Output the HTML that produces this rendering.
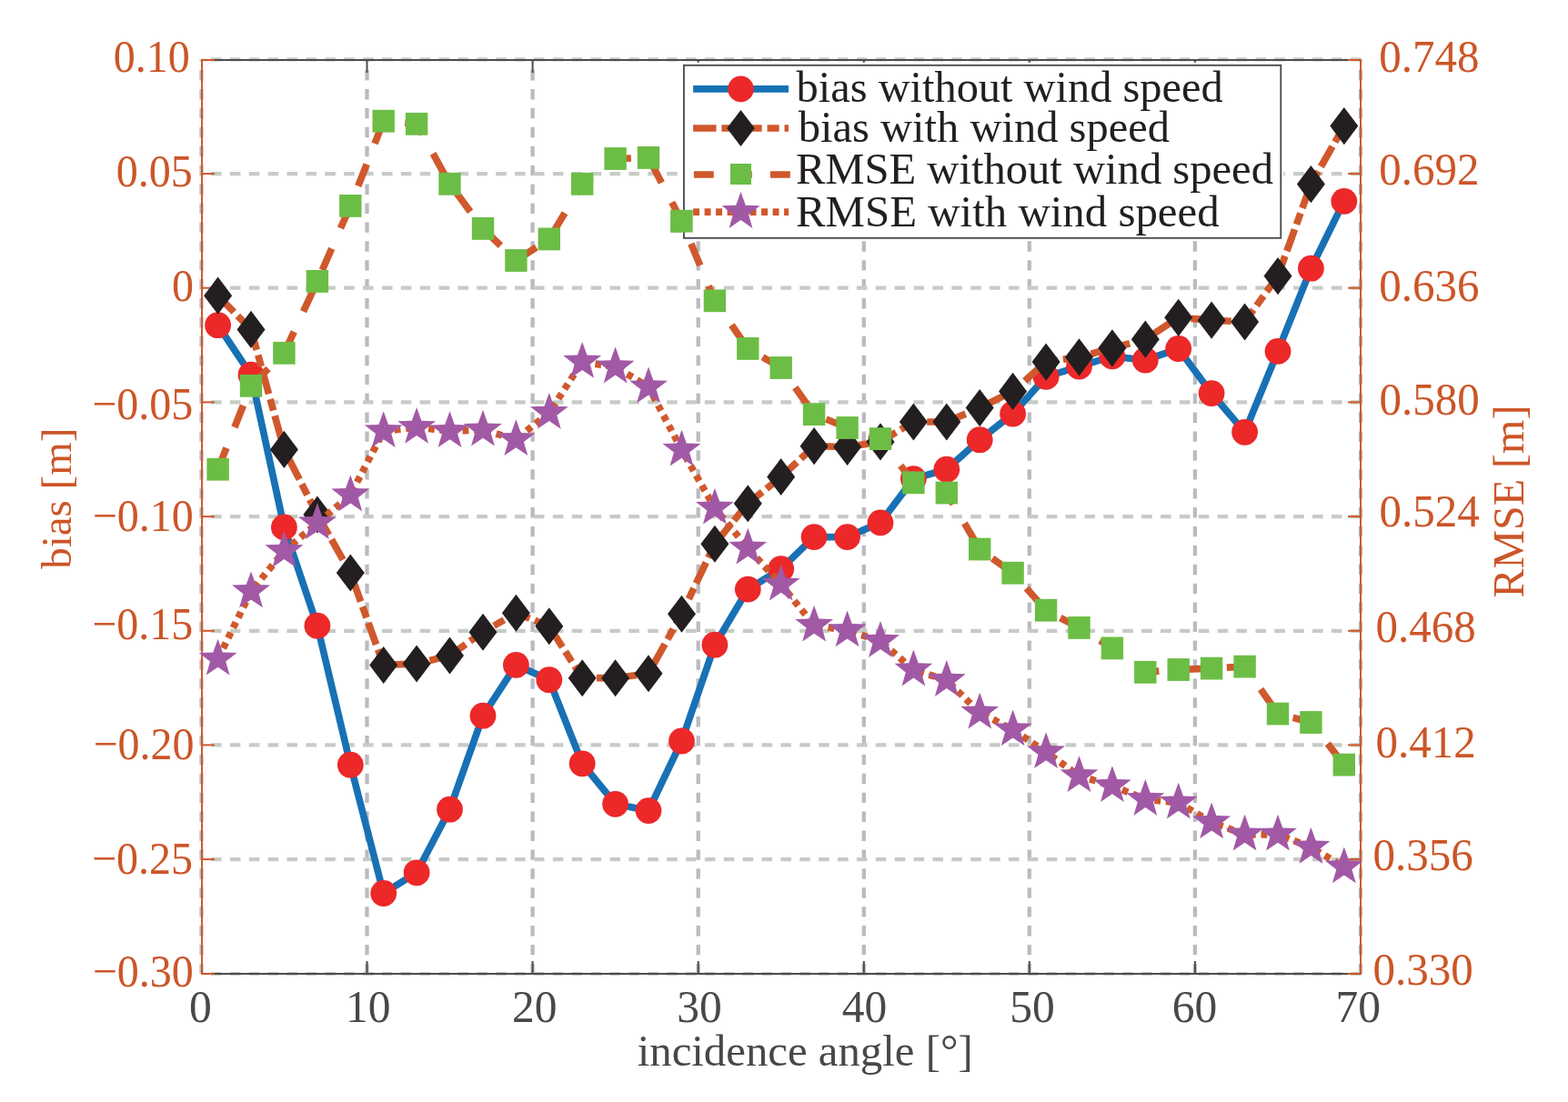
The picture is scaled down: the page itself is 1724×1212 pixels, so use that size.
<!DOCTYPE html>
<html><head><meta charset="utf-8"><title>bias and RMSE vs incidence angle</title>
<style>html,body{margin:0;padding:0;background:#fff;overflow:hidden}svg{display:block}text{font-family:"Liberation Serif","Times New Roman",serif;font-size:48px}</style>
</head><body>
<svg width="1724" height="1212" viewBox="0 0 1724 1212">
<rect x="0" y="0" width="1724" height="1212" fill="#fff"/>
<g fill="none">
<line x1="403.5" y1="65.4" x2="403.5" y2="1070.7" stroke="#BABBC0" stroke-width="4.3" stroke-dasharray="11.4 9.51" stroke-dashoffset="9.2"/>
<line x1="585.6" y1="65.4" x2="585.6" y2="1070.7" stroke="#BABBC0" stroke-width="4.3" stroke-dasharray="11.4 9.51" stroke-dashoffset="9.2"/>
<line x1="767.7" y1="65.4" x2="767.7" y2="1070.7" stroke="#BABBC0" stroke-width="4.3" stroke-dasharray="11.4 9.51" stroke-dashoffset="9.2"/>
<line x1="949.8" y1="65.4" x2="949.8" y2="1070.7" stroke="#BABBC0" stroke-width="4.3" stroke-dasharray="11.4 9.51" stroke-dashoffset="9.2"/>
<line x1="1131.8" y1="65.4" x2="1131.8" y2="1070.7" stroke="#BABBC0" stroke-width="4.3" stroke-dasharray="11.4 9.51" stroke-dashoffset="9.2"/>
<line x1="1313.9" y1="65.4" x2="1313.9" y2="1070.7" stroke="#BABBC0" stroke-width="4.3" stroke-dasharray="11.4 9.51" stroke-dashoffset="9.2"/>
<line x1="222" y1="191.1" x2="1496" y2="191.1" stroke="#C5CCC4" stroke-width="4.2" stroke-dasharray="11.6 9.28" stroke-dashoffset="10.9"/>
<line x1="222" y1="316.7" x2="1496" y2="316.7" stroke="#C5CCC4" stroke-width="4.2" stroke-dasharray="11.6 9.28" stroke-dashoffset="10.9"/>
<line x1="222" y1="442.4" x2="1496" y2="442.4" stroke="#C5CCC4" stroke-width="4.2" stroke-dasharray="11.6 9.28" stroke-dashoffset="10.9"/>
<line x1="222" y1="568.1" x2="1496" y2="568.1" stroke="#C5CCC4" stroke-width="4.2" stroke-dasharray="11.6 9.28" stroke-dashoffset="10.9"/>
<line x1="222" y1="693.8" x2="1496" y2="693.8" stroke="#C5CCC4" stroke-width="4.2" stroke-dasharray="11.6 9.28" stroke-dashoffset="10.9"/>
<line x1="222" y1="819.4" x2="1496" y2="819.4" stroke="#C5CCC4" stroke-width="4.2" stroke-dasharray="11.6 9.28" stroke-dashoffset="10.9"/>
<line x1="222" y1="945.1" x2="1496" y2="945.1" stroke="#C5CCC4" stroke-width="4.2" stroke-dasharray="11.6 9.28" stroke-dashoffset="10.9"/>
<line x1="222" y1="65.4" x2="1496" y2="65.4" stroke="#C5CCC4" stroke-width="4.2" stroke-dasharray="11.6 9.28" stroke-dashoffset="10.9"/>
<line x1="222" y1="1071" x2="1496" y2="1071" stroke="#C5CCC4" stroke-width="4.2" stroke-dasharray="11.6 9.28" stroke-dashoffset="10.9"/>
<line x1="221.5" y1="65.4" x2="221.5" y2="1070.7" stroke="#BABBC0" stroke-width="4.3" stroke-dasharray="11.4 9.51" stroke-dashoffset="9.2"/>
<line x1="1496" y1="65.4" x2="1496" y2="1070.7" stroke="#BABBC0" stroke-width="4.3" stroke-dasharray="11.4 9.51" stroke-dashoffset="9.2"/>
</g>
<g fill="none" stroke-width="2">
<line x1="222" y1="66" x2="1496" y2="66" stroke="#4C4D50"/>
<line x1="222" y1="1071" x2="1496" y2="1071" stroke="#4C4D50"/>
<line x1="403.5" y1="66" x2="403.5" y2="80" stroke="#4C4D50"/>
<line x1="403.5" y1="1057" x2="403.5" y2="1071" stroke="#4C4D50"/>
<line x1="585.6" y1="66" x2="585.6" y2="80" stroke="#4C4D50"/>
<line x1="585.6" y1="1057" x2="585.6" y2="1071" stroke="#4C4D50"/>
<line x1="767.7" y1="66" x2="767.7" y2="80" stroke="#4C4D50"/>
<line x1="767.7" y1="1057" x2="767.7" y2="1071" stroke="#4C4D50"/>
<line x1="949.8" y1="66" x2="949.8" y2="80" stroke="#4C4D50"/>
<line x1="949.8" y1="1057" x2="949.8" y2="1071" stroke="#4C4D50"/>
<line x1="1131.8" y1="66" x2="1131.8" y2="80" stroke="#4C4D50"/>
<line x1="1131.8" y1="1057" x2="1131.8" y2="1071" stroke="#4C4D50"/>
<line x1="1313.9" y1="66" x2="1313.9" y2="80" stroke="#4C4D50"/>
<line x1="1313.9" y1="1057" x2="1313.9" y2="1071" stroke="#4C4D50"/>
<line x1="222" y1="65" x2="222" y2="1072" stroke="#D0582C"/>
<line x1="1496" y1="65" x2="1496" y2="1072" stroke="#D0582C"/>
<line x1="222" y1="66" x2="236" y2="66" stroke="#D0582C"/>
<line x1="1482" y1="66" x2="1496" y2="66" stroke="#D0582C"/>
<line x1="222" y1="191.1" x2="236" y2="191.1" stroke="#D0582C"/>
<line x1="1482" y1="191.1" x2="1496" y2="191.1" stroke="#D0582C"/>
<line x1="222" y1="316.7" x2="236" y2="316.7" stroke="#D0582C"/>
<line x1="1482" y1="316.7" x2="1496" y2="316.7" stroke="#D0582C"/>
<line x1="222" y1="442.4" x2="236" y2="442.4" stroke="#D0582C"/>
<line x1="1482" y1="442.4" x2="1496" y2="442.4" stroke="#D0582C"/>
<line x1="222" y1="568.1" x2="236" y2="568.1" stroke="#D0582C"/>
<line x1="1482" y1="568.1" x2="1496" y2="568.1" stroke="#D0582C"/>
<line x1="222" y1="693.8" x2="236" y2="693.8" stroke="#D0582C"/>
<line x1="1482" y1="693.8" x2="1496" y2="693.8" stroke="#D0582C"/>
<line x1="222" y1="819.4" x2="236" y2="819.4" stroke="#D0582C"/>
<line x1="1482" y1="819.4" x2="1496" y2="819.4" stroke="#D0582C"/>
<line x1="222" y1="945.1" x2="236" y2="945.1" stroke="#D0582C"/>
<line x1="1482" y1="945.1" x2="1496" y2="945.1" stroke="#D0582C"/>
<line x1="222" y1="1071" x2="236" y2="1071" stroke="#D0582C"/>
<line x1="1482" y1="1071" x2="1496" y2="1071" stroke="#D0582C"/>
</g>
<g fill="none" stroke-linejoin="miter" stroke-linecap="butt">
<polyline points="239.6,357.7 276,412.2 312.4,579.9 348.9,688.2 385.3,841.2 421.7,982.5 458.1,959.8 494.5,890.2 531,787.2 567.4,731.4 603.8,747.7 640.2,839.8 676.6,884.3 713,891.6 749.5,815 785.9,709.2 822.3,648.1 858.7,625.7 895.1,590.6 931.6,590.6 968,574.9 1004.4,526.6 1040.8,516.2 1077.2,483.7 1113.6,455.1 1150.1,414.4 1186.5,403.1 1222.9,391.9 1259.3,396.1 1295.7,383.5 1332.1,432.6 1368.6,475.3 1405,386.4 1441.4,295.2 1477.8,221.4" stroke="#1871B5" stroke-width="7.7"/>
</g>
<g fill="#EC2829">
<circle cx="239.6" cy="357.7" r="14.4"/>
<circle cx="276" cy="412.2" r="14.4"/>
<circle cx="312.4" cy="579.9" r="14.4"/>
<circle cx="348.9" cy="688.2" r="14.4"/>
<circle cx="385.3" cy="841.2" r="14.4"/>
<circle cx="421.7" cy="982.5" r="14.4"/>
<circle cx="458.1" cy="959.8" r="14.4"/>
<circle cx="494.5" cy="890.2" r="14.4"/>
<circle cx="531" cy="787.2" r="14.4"/>
<circle cx="567.4" cy="731.4" r="14.4"/>
<circle cx="603.8" cy="747.7" r="14.4"/>
<circle cx="640.2" cy="839.8" r="14.4"/>
<circle cx="676.6" cy="884.3" r="14.4"/>
<circle cx="713" cy="891.6" r="14.4"/>
<circle cx="749.5" cy="815" r="14.4"/>
<circle cx="785.9" cy="709.2" r="14.4"/>
<circle cx="822.3" cy="648.1" r="14.4"/>
<circle cx="858.7" cy="625.7" r="14.4"/>
<circle cx="895.1" cy="590.6" r="14.4"/>
<circle cx="931.6" cy="590.6" r="14.4"/>
<circle cx="968" cy="574.9" r="14.4"/>
<circle cx="1004.4" cy="526.6" r="14.4"/>
<circle cx="1040.8" cy="516.2" r="14.4"/>
<circle cx="1077.2" cy="483.7" r="14.4"/>
<circle cx="1113.6" cy="455.1" r="14.4"/>
<circle cx="1150.1" cy="414.4" r="14.4"/>
<circle cx="1186.5" cy="403.1" r="14.4"/>
<circle cx="1222.9" cy="391.9" r="14.4"/>
<circle cx="1259.3" cy="396.1" r="14.4"/>
<circle cx="1295.7" cy="383.5" r="14.4"/>
<circle cx="1332.1" cy="432.6" r="14.4"/>
<circle cx="1368.6" cy="475.3" r="14.4"/>
<circle cx="1405" cy="386.4" r="14.4"/>
<circle cx="1441.4" cy="295.2" r="14.4"/>
<circle cx="1477.8" cy="221.4" r="14.4"/>
</g>
<polyline fill="none" points="239.6,325.2 276,362.4 312.4,494.4 348.9,565.9 385.3,630.1 421.7,731.4 458.1,730 494.5,721 531,695.2 567.4,674.2 603.8,688.8 640.2,745.7 676.6,745.7 713,740.7 749.5,675.3 785.9,598.2 822.3,553.8 858.7,524.6 895.1,490.7 931.6,491.5 968,485.9 1004.4,464 1040.8,464 1077.2,448.6 1113.6,430.4 1150.1,398.1 1186.5,392.8 1222.9,382.8 1259.3,373.2 1295.7,349.3 1332.1,352.2 1368.6,354 1405,303.6 1441.4,202.6 1477.8,138.6" stroke="#D0582C" stroke-width="7.7" stroke-dasharray="25.4 5.9 13 5.9" stroke-dashoffset="0.25"/>
<path fill="#231F20" d="M239.6 304.6L255.1 325.2L239.6 345.8L224.1 325.2ZM276 341.8L291.5 362.4L276 382.9L260.5 362.4ZM312.4 473.8L327.9 494.4L312.4 514.9L296.9 494.4ZM348.9 545.4L364.4 565.9L348.9 586.4L333.4 565.9ZM385.3 609.6L400.8 630.1L385.3 650.6L369.8 630.1ZM421.7 710.9L437.2 731.4L421.7 751.9L406.2 731.4ZM458.1 709.5L473.6 730L458.1 750.5L442.6 730ZM494.5 700.5L510 721L494.5 741.5L479 721ZM531 674.7L546.5 695.2L531 715.8L515.5 695.2ZM567.4 653.7L582.9 674.2L567.4 694.8L551.9 674.2ZM603.8 668.2L619.3 688.8L603.8 709.3L588.3 688.8ZM640.2 725.2L655.7 745.7L640.2 766.2L624.7 745.7ZM676.6 725.2L692.1 745.7L676.6 766.2L661.1 745.7ZM713 720.2L728.5 740.7L713 761.2L697.5 740.7ZM749.5 654.8L765 675.3L749.5 695.8L734 675.3ZM785.9 577.7L801.4 598.2L785.9 618.8L770.4 598.2ZM822.3 533.2L837.8 553.8L822.3 574.3L806.8 553.8ZM858.7 504.1L874.2 524.6L858.7 545.1L843.2 524.6ZM895.1 470.1L910.6 490.7L895.1 511.2L879.6 490.7ZM931.6 470.9L947.1 491.5L931.6 512L916.1 491.5ZM968 465.3L983.5 485.9L968 506.4L952.5 485.9ZM1004.4 443.4L1019.9 464L1004.4 484.6L988.9 464ZM1040.8 443.4L1056.3 464L1040.8 484.6L1025.3 464ZM1077.2 428.1L1092.7 448.6L1077.2 469.2L1061.7 448.6ZM1113.6 409.8L1129.1 430.4L1113.6 450.9L1098.1 430.4ZM1150.1 377.6L1165.6 398.1L1150.1 418.7L1134.6 398.1ZM1186.5 372.2L1202 392.8L1186.5 413.4L1171 392.8ZM1222.9 362.2L1238.4 382.8L1222.9 403.4L1207.4 382.8ZM1259.3 352.6L1274.8 373.2L1259.3 393.8L1243.8 373.2ZM1295.7 328.8L1311.2 349.3L1295.7 369.9L1280.2 349.3ZM1332.1 331.6L1347.6 352.2L1332.1 372.8L1316.6 352.2ZM1368.6 333.4L1384.1 354L1368.6 374.6L1353.1 354ZM1405 283.1L1420.5 303.6L1405 324.2L1389.5 303.6ZM1441.4 182L1456.9 202.6L1441.4 223.2L1425.9 202.6ZM1477.8 118L1493.3 138.6L1477.8 159.2L1462.3 138.6Z"/>
<polyline fill="none" points="239.6,516.2 276,424.3 312.4,388.3 348.9,309.4 385.3,226.4 421.7,133.2 458.1,136.3 494.5,202.3 531,251.4 567.4,286.5 603.8,262.9 640.2,202.3 676.6,174.5 713,173.4 749.5,243.2 785.9,330.8 822.3,383.4 858.7,404.5 895.1,455.6 931.6,470.5 968,482.6 1004.4,530.8 1040.8,542 1077.2,604 1113.6,630.2 1150.1,671.2 1186.5,690.4 1222.9,712.9 1259.3,739.3 1295.7,736.5 1332.1,735.1 1368.6,733.1 1405,785 1441.4,794.5 1477.8,841.1" stroke="#D0582C" stroke-width="7.7" stroke-dasharray="25.8 24.4" stroke-dashoffset="0.5"/>
<g fill="#6CBD45">
<rect x="227.4" y="503.8" width="24.4" height="24.8"/>
<rect x="263.8" y="411.9" width="24.4" height="24.8"/>
<rect x="300.2" y="375.9" width="24.4" height="24.8"/>
<rect x="336.7" y="297" width="24.4" height="24.8"/>
<rect x="373.1" y="214" width="24.4" height="24.8"/>
<rect x="409.5" y="120.8" width="24.4" height="24.8"/>
<rect x="445.9" y="123.9" width="24.4" height="24.8"/>
<rect x="482.3" y="189.9" width="24.4" height="24.8"/>
<rect x="518.8" y="239" width="24.4" height="24.8"/>
<rect x="555.2" y="274.1" width="24.4" height="24.8"/>
<rect x="591.6" y="250.5" width="24.4" height="24.8"/>
<rect x="628" y="189.9" width="24.4" height="24.8"/>
<rect x="664.4" y="162.1" width="24.4" height="24.8"/>
<rect x="700.8" y="161" width="24.4" height="24.8"/>
<rect x="737.3" y="230.8" width="24.4" height="24.8"/>
<rect x="773.7" y="318.4" width="24.4" height="24.8"/>
<rect x="810.1" y="371" width="24.4" height="24.8"/>
<rect x="846.5" y="392.1" width="24.4" height="24.8"/>
<rect x="882.9" y="443.2" width="24.4" height="24.8"/>
<rect x="919.4" y="458.1" width="24.4" height="24.8"/>
<rect x="955.8" y="470.2" width="24.4" height="24.8"/>
<rect x="992.2" y="518.4" width="24.4" height="24.8"/>
<rect x="1028.6" y="529.6" width="24.4" height="24.8"/>
<rect x="1065" y="591.6" width="24.4" height="24.8"/>
<rect x="1101.4" y="617.8" width="24.4" height="24.8"/>
<rect x="1137.9" y="658.8" width="24.4" height="24.8"/>
<rect x="1174.3" y="678" width="24.4" height="24.8"/>
<rect x="1210.7" y="700.5" width="24.4" height="24.8"/>
<rect x="1247.1" y="726.9" width="24.4" height="24.8"/>
<rect x="1283.5" y="724.1" width="24.4" height="24.8"/>
<rect x="1319.9" y="722.7" width="24.4" height="24.8"/>
<rect x="1356.4" y="720.7" width="24.4" height="24.8"/>
<rect x="1392.8" y="772.6" width="24.4" height="24.8"/>
<rect x="1429.2" y="782.1" width="24.4" height="24.8"/>
<rect x="1465.6" y="828.7" width="24.4" height="24.8"/>
</g>
<polyline fill="none" points="239.6,724.8 276,650.4 312.4,606.1 348.9,575.3 385.3,544.4 421.7,474.2 458.1,470 494.5,474.2 531,472.8 567.4,483.2 603.8,454 640.2,397.9 676.6,403.6 713,425.5 749.5,494.8 785.9,558.8 822.3,602.8 858.7,642.7 895.1,687.7 931.6,693.4 968,705.1 1004.4,736.6 1040.8,748.1 1077.2,783.7 1113.6,802.5 1150.1,827.2 1186.5,853.3 1222.9,864.2 1259.3,879.1 1295.7,882.8 1332.1,904.4 1368.6,917.8 1405,917.8 1441.4,931.9 1477.8,953.5" stroke="#D0582C" stroke-width="7.7" stroke-dasharray="6.8 5.748" stroke-dashoffset="12"/>
<path fill="#A259A5" d="M239.6 702.8 L244.9 717.5 L260.5 718 L248.2 727.6 L252.5 742.6 L239.6 733.8 L226.7 742.6 L231 727.6 L218.7 718 L234.3 717.5ZM276 628.4 L281.3 643.1 L297 643.6 L284.6 653.2 L289 668.2 L276 659.4 L263.1 668.2 L267.5 653.2 L255.1 643.6 L270.7 643.1ZM312.4 584.1 L317.7 598.8 L333.4 599.3 L321 608.9 L325.4 623.9 L312.4 615.1 L299.5 623.9 L303.9 608.9 L291.5 599.3 L307.2 598.8ZM348.9 553.3 L354.2 568 L369.8 568.5 L357.4 578.1 L361.8 593.1 L348.9 584.3 L335.9 593.1 L340.3 578.1 L327.9 568.5 L343.6 568ZM385.3 522.4 L390.6 537.1 L406.2 537.6 L393.8 547.2 L398.2 562.2 L385.3 553.4 L372.3 562.2 L376.7 547.2 L364.4 537.6 L380 537.1ZM421.7 452.2 L427 466.9 L442.6 467.4 L430.3 477 L434.6 492 L421.7 483.2 L408.8 492 L413.1 477 L400.8 467.4 L416.4 466.9ZM458.1 448 L463.4 462.7 L479 463.2 L466.7 472.8 L471 487.8 L458.1 479 L445.2 487.8 L449.6 472.8 L437.2 463.2 L452.8 462.7ZM494.5 452.2 L499.8 466.9 L515.5 467.4 L503.1 477 L507.5 492 L494.5 483.2 L481.6 492 L486 477 L473.6 467.4 L489.2 466.9ZM531 450.8 L536.2 465.5 L551.9 466 L539.5 475.6 L543.9 490.6 L531 481.8 L518 490.6 L522.4 475.6 L510 466 L525.7 465.5ZM567.4 461.2 L572.7 475.9 L588.3 476.4 L575.9 486 L580.3 501 L567.4 492.2 L554.4 501 L558.8 486 L546.4 476.4 L562.1 475.9ZM603.8 432 L609.1 446.7 L624.7 447.2 L612.3 456.8 L616.7 471.8 L603.8 463 L590.9 471.8 L595.2 456.8 L582.9 447.2 L598.5 446.7ZM640.2 375.9 L645.5 390.6 L661.1 391.1 L648.8 400.7 L653.1 415.7 L640.2 406.9 L627.3 415.7 L631.6 400.7 L619.3 391.1 L634.9 390.6ZM676.6 381.6 L681.9 396.3 L697.5 396.8 L685.2 406.4 L689.6 421.4 L676.6 412.6 L663.7 421.4 L668.1 406.4 L655.7 396.8 L671.3 396.3ZM713 403.5 L718.3 418.2 L734 418.7 L721.6 428.3 L726 443.3 L713 434.5 L700.1 443.3 L704.5 428.3 L692.1 418.7 L707.8 418.2ZM749.5 472.8 L754.8 487.5 L770.4 488 L758 497.6 L762.4 512.6 L749.5 503.8 L736.5 512.6 L740.9 497.6 L728.5 488 L744.2 487.5ZM785.9 536.8 L791.2 551.5 L806.8 552 L794.4 561.6 L798.8 576.6 L785.9 567.8 L772.9 576.6 L777.3 561.6 L765 552 L780.6 551.5ZM822.3 580.8 L827.6 595.5 L843.2 596 L830.9 605.6 L835.2 620.6 L822.3 611.8 L809.4 620.6 L813.7 605.6 L801.4 596 L817 595.5ZM858.7 620.7 L864 635.4 L879.6 635.9 L867.3 645.5 L871.6 660.5 L858.7 651.7 L845.8 660.5 L850.2 645.5 L837.8 635.9 L853.4 635.4ZM895.1 665.7 L900.4 680.4 L916.1 680.9 L903.7 690.5 L908.1 705.5 L895.1 696.7 L882.2 705.5 L886.6 690.5 L874.2 680.9 L889.8 680.4ZM931.6 671.4 L936.8 686.1 L952.5 686.6 L940.1 696.2 L944.5 711.2 L931.6 702.4 L918.6 711.2 L923 696.2 L910.6 686.6 L926.3 686.1ZM968 683.1 L973.3 697.8 L988.9 698.3 L976.5 707.9 L980.9 722.9 L968 714.1 L955 722.9 L959.4 707.9 L947 698.3 L962.7 697.8ZM1004.4 714.6 L1009.7 729.3 L1025.3 729.8 L1012.9 739.4 L1017.3 754.4 L1004.4 745.6 L991.5 754.4 L995.8 739.4 L983.5 729.8 L999.1 729.3ZM1040.8 726.1 L1046.1 740.8 L1061.7 741.3 L1049.4 750.9 L1053.7 765.9 L1040.8 757.1 L1027.9 765.9 L1032.2 750.9 L1019.9 741.3 L1035.5 740.8ZM1077.2 761.7 L1082.5 776.4 L1098.1 776.9 L1085.8 786.5 L1090.2 801.5 L1077.2 792.7 L1064.3 801.5 L1068.7 786.5 L1056.3 776.9 L1071.9 776.4ZM1113.6 780.5 L1118.9 795.2 L1134.6 795.7 L1122.2 805.3 L1126.6 820.3 L1113.6 811.5 L1100.7 820.3 L1105.1 805.3 L1092.7 795.7 L1108.4 795.2ZM1150.1 805.2 L1155.3 819.9 L1171 820.4 L1158.6 830 L1163 845 L1150.1 836.2 L1137.1 845 L1141.5 830 L1129.1 820.4 L1144.8 819.9ZM1186.5 831.3 L1191.8 846 L1207.4 846.5 L1195 856.1 L1199.4 871.1 L1186.5 862.3 L1173.5 871.1 L1177.9 856.1 L1165.6 846.5 L1181.2 846ZM1222.9 842.2 L1228.2 856.9 L1243.8 857.4 L1231.5 867 L1235.8 882 L1222.9 873.2 L1210 882 L1214.3 867 L1202 857.4 L1217.6 856.9ZM1259.3 857.1 L1264.6 871.8 L1280.2 872.3 L1267.9 881.9 L1272.2 896.9 L1259.3 888.1 L1246.4 896.9 L1250.8 881.9 L1238.4 872.3 L1254 871.8ZM1295.7 860.8 L1301 875.5 L1316.7 876 L1304.3 885.6 L1308.7 900.6 L1295.7 891.8 L1282.8 900.6 L1287.2 885.6 L1274.8 876 L1290.4 875.5ZM1332.1 882.4 L1337.4 897.1 L1353.1 897.6 L1340.7 907.2 L1345.1 922.2 L1332.1 913.4 L1319.2 922.2 L1323.6 907.2 L1311.2 897.6 L1326.9 897.1ZM1368.6 895.8 L1373.9 910.5 L1389.5 911 L1377.1 920.6 L1381.5 935.6 L1368.6 926.8 L1355.6 935.6 L1360 920.6 L1347.6 911 L1363.3 910.5ZM1405 895.8 L1410.3 910.5 L1425.9 911 L1413.5 920.6 L1417.9 935.6 L1405 926.8 L1392.1 935.6 L1396.4 920.6 L1384.1 911 L1399.7 910.5ZM1441.4 909.9 L1446.7 924.6 L1462.3 925.1 L1450 934.7 L1454.3 949.7 L1441.4 940.9 L1428.5 949.7 L1432.8 934.7 L1420.5 925.1 L1436.1 924.6ZM1477.8 931.5 L1483.1 946.2 L1498.7 946.7 L1486.4 956.3 L1490.8 971.3 L1477.8 962.5 L1464.9 971.3 L1469.3 956.3 L1456.9 946.7 L1472.5 946.2Z"/>
<rect x="748.9" y="68.8" width="662.4" height="196" fill="#fff"/>
<rect x="751.9" y="71.8" width="656.4" height="190" fill="#fff" stroke="#4C4D50" stroke-width="1.9"/>
<line x1="762.1" y1="97.9" x2="867" y2="97.9" stroke="#1871B5" stroke-width="7.7"/>
<circle cx="814.5" cy="97.9" r="14.3" fill="#EC2829"/>
<line x1="762.1" y1="141" x2="867" y2="141" stroke="#D0582C" stroke-width="7.7" stroke-dasharray="25.4 5.9 13 5.9"/>
<path fill="#231F20" d="M814.5 121.1L829.8 141L814.5 160.9L799.2 141Z"/>
<line x1="762.9" y1="192" x2="869.1" y2="192" stroke="#D0582C" stroke-width="7.7" stroke-dasharray="21.9 20.1"/>
<rect x="803" y="180" width="23" height="23" fill="#6CBD45"/>
<line x1="762.1" y1="233.1" x2="867.1" y2="233.1" stroke="#D0582C" stroke-width="7.7" stroke-dasharray="6.9 5.6"/>
<path fill="#A259A5" d="M814.5 211.1 L819.8 225.8 L835.4 226.3 L823.1 235.9 L827.4 250.9 L814.5 242.1 L801.6 250.9 L805.9 235.9 L793.6 226.3 L809.2 225.8Z"/>
<text x="875.6" y="111.5" fill="#231F20" style="font-size:48.4px">bias without wind speed</text>
<text x="877.8" y="155.5" fill="#231F20" style="font-size:48.5px">bias with wind speed</text>
<text x="874.9" y="201.9" fill="#231F20" style="font-size:48.6px">RMSE without wind speed</text>
<text x="874.9" y="248.9" fill="#231F20" style="font-size:48.9px">RMSE with wind speed</text>
<rect x="737.3" y="230.8" width="24.4" height="24.8" fill="#6CBD45"/>
<text transform="translate(208.7 79) scale(1 1.04)" fill="#CC5527" text-anchor="end">0.10</text>
<text transform="translate(211.7 204.7) scale(1 1.04)" fill="#CC5527" text-anchor="end">0.05</text>
<text transform="translate(212.9 331.4) scale(1 1.04)" fill="#CC5527" text-anchor="end">0</text>
<text transform="translate(212.2 461.3) scale(1 1.04)" fill="#CC5527" text-anchor="end">−0.05</text>
<text transform="translate(212.8 583.8) scale(1 1.04)" fill="#CC5527" text-anchor="end">−0.10</text>
<text transform="translate(212.2 703.2) scale(1 1.04)" fill="#CC5527" text-anchor="end">−0.15</text>
<text transform="translate(213.5 834.5) scale(1 1.04)" fill="#CC5527" text-anchor="end">−0.20</text>
<text transform="translate(212 961.2) scale(1 1.04)" fill="#CC5527" text-anchor="end">−0.25</text>
<text transform="translate(212.8 1084.6) scale(1 1.04)" fill="#CC5527" text-anchor="end">−0.30</text>
<text transform="translate(1516.2 79.1) scale(1 1.04)" fill="#CC5527" style="font-size:49px">0.748</text>
<text transform="translate(1516.2 203.2) scale(1 1.04)" fill="#CC5527" style="font-size:49px">0.692</text>
<text transform="translate(1516.2 331.1) scale(1 1.04)" fill="#CC5527" style="font-size:49px">0.636</text>
<text transform="translate(1516.6 456.1) scale(1 1.04)" fill="#CC5527" style="font-size:49px">0.580</text>
<text transform="translate(1516.6 579.4) scale(1 1.04)" fill="#CC5527" style="font-size:49px">0.524</text>
<text transform="translate(1512.5 705.6) scale(1 1.04)" fill="#CC5527" style="font-size:49px">0.468</text>
<text transform="translate(1512.5 832.9) scale(1 1.04)" fill="#CC5527" style="font-size:49px">0.412</text>
<text transform="translate(1509.6 957) scale(1 1.04)" fill="#CC5527" style="font-size:49px">0.356</text>
<text transform="translate(1509.6 1083.3) scale(1 1.04)" fill="#CC5527" style="font-size:49px">0.330</text>
<text transform="translate(220.3 1124.3) scale(1 1.035)" fill="#47484A" text-anchor="middle" style="font-size:49.5px">0</text>
<text transform="translate(404.7 1124.3) scale(1 1.035)" fill="#47484A" text-anchor="middle" style="font-size:49.5px">10</text>
<text transform="translate(587.7 1124.3) scale(1 1.035)" fill="#47484A" text-anchor="middle" style="font-size:49.5px">20</text>
<text transform="translate(768.9 1124.3) scale(1 1.035)" fill="#47484A" text-anchor="middle" style="font-size:49.5px">30</text>
<text transform="translate(950.4 1124.3) scale(1 1.035)" fill="#47484A" text-anchor="middle" style="font-size:49.5px">40</text>
<text transform="translate(1135 1124.3) scale(1 1.035)" fill="#47484A" text-anchor="middle" style="font-size:49.5px">50</text>
<text transform="translate(1313.4 1124.3) scale(1 1.035)" fill="#47484A" text-anchor="middle" style="font-size:49.5px">60</text>
<text transform="translate(1493.3 1124.3) scale(1 1.035)" fill="#47484A" text-anchor="middle" style="font-size:49.5px">70</text>
<text x="885.2" y="1171.5" fill="#47484A" text-anchor="middle" style="font-size:48.8px">incidence angle [°]</text>
<text transform="translate(78.1 548.2) rotate(-90)" fill="#CC5527" text-anchor="middle" style="font-size:47px">bias [m]</text>
<text transform="translate(1674.7 551.6) rotate(-90)" fill="#CC5527" text-anchor="middle">RMSE [m]</text>
</svg>
</body></html>
